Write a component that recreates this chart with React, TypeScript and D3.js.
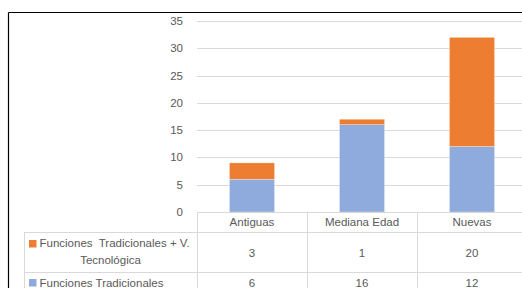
import * as d3 from "d3";

const categories = ["Antiguas", "Mediana Edad", "Nuevas"];
const seriesNames = ["Funciones Tradicionales", "Funciones  Tradicionales + V. Tecnológica"];
const tradicionales = [6, 16, 12];
const tecnologica = [3, 1, 20];
const yTicks = [0, 5, 10, 15, 20, 25, 30, 35];

const W = 522;
const H = 288;
const font = "'Liberation Sans', Arial, sans-serif";
const textColor = "#595959";
const gridColor = "#d9d9d9";
const orange = "#ED7D31";
const blue = "#8FAADC";

export default function App() {
  const x = d3.scaleBand<string>().domain(categories).range([197, 527]);
  const y = d3.scaleLinear().domain([0, 35]).range([212, 21]);
  const bw = x.bandwidth();
  const barW = bw * 0.41;

  const stacked = d3.stack<any>().keys(["trad", "tec"])(
    categories.map((c, i) => ({ cat: c, trad: tradicionales[i], tec: tecnologica[i] }))
  );
  const colors = [blue, orange];

  const tableLeft = 24;
  const row1Top = 232.5;
  const row2Top = 272.5;

  return (
    <svg width={W} height={H} style={{ position: "absolute", left: 0, top: 0, background: "#fff" }}
      fontFamily={font} fontSize={11.5} fill={textColor}>
      {/* outer frame */}
      <line x1={8.5} y1={12.5} x2={W} y2={12.5} stroke="#000" strokeWidth={1.2} />
      <line x1={8.5} y1={12.5} x2={8.5} y2={H} stroke="#000" strokeWidth={1.2} />

      {/* gridlines + y labels */}
      {yTicks.map((t) => (
        <g key={t}>
          {t > 0 && (
            <line x1={197} x2={W} y1={Math.round(y(t)) + 0.5} y2={Math.round(y(t)) + 0.5} stroke={gridColor} />
          )}
          <text x={183} y={y(t) + 4} textAnchor="end">{t}</text>
        </g>
      ))}

      {/* bars */}
      {stacked.map((s, si) =>
        s.map((d: any, i: number) => (
          <rect key={si + "-" + i}
            x={(x(categories[i]) as number) + (bw - barW) / 2}
            y={y(d[1])}
            width={barW}
            height={y(d[0]) - y(d[1])}
            fill={colors[si]}
            stroke="#fff" strokeOpacity={0.5} strokeWidth={0.6} />
        ))
      )}

      {/* data table lines */}
      <line x1={197} x2={W} y1={212.5} y2={212.5} stroke={gridColor} />
      <line x1={tableLeft} x2={W} y1={row1Top} y2={row1Top} stroke={gridColor} />
      <line x1={tableLeft} x2={W} y1={row2Top} y2={row2Top} stroke={gridColor} />
      <line x1={tableLeft + 0.5} x2={tableLeft + 0.5} y1={row1Top} y2={H} stroke={gridColor} />
      {categories.map((c) => (
        <line key={c} x1={Math.round(x(c) as number) + 0.5} x2={Math.round(x(c) as number) + 0.5} y1={212} y2={H} stroke={gridColor} />
      ))}
      <line x1={Math.round(x.range()[1]) + 0.5} x2={Math.round(x.range()[1]) + 0.5} y1={212} y2={H} stroke={gridColor} />

      {/* header row */}
      {categories.map((c) => (
        <text key={c} x={(x(c) as number) + bw / 2} y={226} textAnchor="middle">{c}</text>
      ))}

      {/* row 1: tecnologica */}
      <rect x={29} y={240} width={7.5} height={7.5} fill={orange} />
      <text x={39.5} y={247} style={{ whiteSpace: "pre" }}>{"Funciones  Tradicionales + V."}</text>
      <text x={110.5} y={264} textAnchor="middle">Tecnológica</text>
      {tecnologica.map((v, i) => (
        <text key={i} x={(x(categories[i]) as number) + bw / 2} y={257} textAnchor="middle">{v}</text>
      ))}

      {/* row 2: tradicionales */}
      <rect x={29} y={279} width={7.5} height={7.5} fill={blue} />
      <text x={39.5} y={287}>{seriesNames[0]}</text>
      {tradicionales.map((v, i) => (
        <text key={i} x={(x(categories[i]) as number) + bw / 2} y={287} textAnchor="middle">{v}</text>
      ))}
    </svg>
  );
}
